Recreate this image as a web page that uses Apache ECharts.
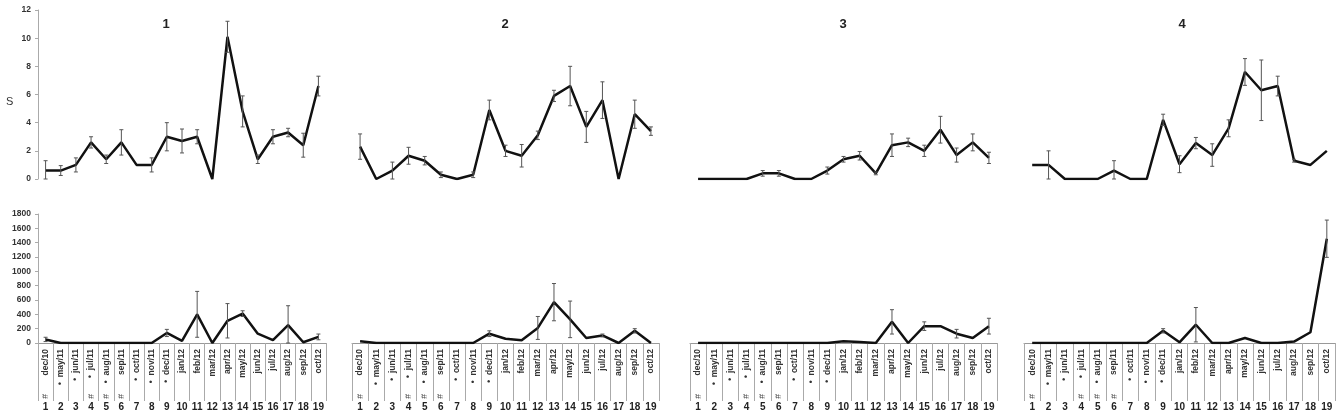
<!DOCTYPE html>
<html><head><meta charset="utf-8">
<script src="https://cdn.jsdelivr.net/npm/echarts@6/dist/echarts.min.js"></script>
<style>html,body{margin:0;padding:0;background:#fff}#c{width:1336px;height:417px}</style>
</head><body><div id="c"></div>
<script>
const months = ['dec/10','may/11','jun/11','jul/11','aug/11','sep/11','oct/11','nov/11','dec/11','jan/12','feb/12','mar/12','apr/12','may/12','jun/12','jul/12','aug/12','sep/12','oct/12'];
const bulletRow = ['', '•', '•', '•', '•', '', '•', '•', '•', '', '', '', '', '', '', '', '', '', ''];
const hashRow = ['#', '', '', '#', '#', '#', '', '', '', '', '', '', '', '', '', '', '', '', ''];
const sampleNums = ['1','2','3','4','5','6','7','8','9','10','11','12','13','14','15','16','17','18','19'];
const panelTitles = ['1','2','3','4'];
const sTicks = [0,12,2];
const aTicks = [0,1800,200];

const s1 = [0.6,0.6,1.0,2.6,1.4,2.6,1.0,1.0,3.0,2.7,3.0,0,10.1,4.8,1.4,3.0,3.3,2.4,6.6];
const s1e = [0.7,0.35,0.5,0.4,0.3,0.9,0,0.5,1.0,0.85,0.5,0,1.1,1.1,0.3,0.5,0.3,0.85,0.7];
const s2 = [2.3,0,0.6,1.65,1.3,0.3,0,0.3,4.9,2.0,1.65,3.1,5.9,6.6,3.7,5.6,0,4.6,3.4];
const s2e = [0.9,0,0.6,0.6,0.3,0.2,0,0.2,0.7,0.4,0.8,0.3,0.4,1.4,1.1,1.3,0,1.0,0.3];
const s3 = [0,0,0,0,0.4,0.4,0,0,0.6,1.4,1.65,0.4,2.4,2.6,2.0,3.5,1.7,2.6,1.5];
const s3e = [0,0,0,0,0.2,0.2,0,0,0.25,0.2,0.3,0.1,0.8,0.3,0.4,0.95,0.5,0.6,0.4];
const s4 = [1.0,1.0,0,0,0,0.6,0,0,4.2,1.05,2.55,1.7,3.6,7.6,6.3,6.6,1.3,1.0,2.0];
const s4e = [0,1.0,0,0,0,0.7,0,0,0.4,0.6,0.4,0.8,0.6,0.95,2.15,0.7,0.1,0,0];

const a1 = [50,0,0,0,0,0,0,0,140,30,400,0,310,410,130,40,250,10,85];
const a1e = [30,0,0,0,0,0,0,0,50,0,320,0,240,40,0,0,270,0,40];
const a2 = [25,0,0,0,0,0,0,0,130,60,40,210,570,330,70,105,0,170,0];
const a2e = [0,0,0,0,0,0,0,0,40,0,0,160,260,255,0,20,0,30,0];
const a3 = [0,0,0,0,0,0,0,0,0,25,15,0,295,0,235,235,130,70,235];
const a3e = [0,0,0,0,0,0,0,0,0,0,0,0,170,0,60,0,60,0,110];
const a4 = [0,0,0,0,0,0,0,0,170,10,255,0,0,70,0,0,20,150,1455];
const a4e = [0,0,0,0,0,0,0,0,30,0,240,0,0,0,0,0,0,0,260];

const topVals = [s1,s2,s3,s4], topErrs = [s1e,s2e,s3e,s4e];
const botVals = [a1,a2,a3,a4], botErrs = [a1e,a2e,a3e,a4e];

const panelX = [{left:38,width:288},{left:352,width:307},{left:690,width:307},{left:1024,width:311}];
const FONT = 'Liberation Sans, Arial, sans-serif';

const dateLabels = months.map((m,i)=> bulletRow[i] ? bulletRow[i] + '  ' + m : m);

const grids = [], xAxes = [], yAxes = [], series = [], titles = [];

function errSeries(xi, yi, vals, errs) {
  const d = [];
  vals.forEach((v,i)=>{ if (errs[i] > 0) d.push([i, Math.max(0, v-errs[i]), v+errs[i]]); });
  return {
    type:'custom', xAxisIndex:xi, yAxisIndex:yi, z:5, silent:true,
    renderItem:function(params, api){
      const x = api.value(0);
      const lo = api.coord([x, api.value(1)]);
      const hi = api.coord([x, api.value(2)]);
      const w = 2;
      const st = {stroke:'#555', lineWidth:1};
      return {type:'group', children:[
        {type:'line', shape:{x1:lo[0],y1:lo[1],x2:hi[0],y2:hi[1]}, style:st},
        {type:'line', shape:{x1:lo[0]-w,y1:lo[1],x2:lo[0]+w,y2:lo[1]}, style:st},
        {type:'line', shape:{x1:hi[0]-w,y1:hi[1],x2:hi[0]+w,y2:hi[1]}, style:st}
      ]};
    },
    data:d
  };
}

const yLabel = {fontSize:8.5, fontWeight:'bold', color:'#333', fontFamily:FONT, margin:7, formatter:v=>String(v)};

for (let p=0;p<4;p++){
  const gt = grids.length;
  grids.push({left:panelX[p].left, width:panelX[p].width, top:10, height:169});
  const xt = xAxes.length;
  xAxes.push({type:'category', gridIndex:gt, data:sampleNums, boundaryGap:true, show:false});
  const yt = yAxes.length;
  yAxes.push({type:'value', gridIndex:gt, min:sTicks[0], max:sTicks[1], interval:sTicks[2], show:p===0,
    splitLine:{show:false},
    axisLine:{show:true, lineStyle:{color:'#aaa', width:1}},
    axisTick:{show:true, length:3, lineStyle:{color:'#aaa'}},
    axisLabel:yLabel});
  series.push({type:'line', xAxisIndex:xt, yAxisIndex:yt, data:topVals[p], showSymbol:false, z:4,
    lineStyle:{color:'#111', width:2.5}});
  series.push(errSeries(xt, yt, topVals[p], topErrs[p]));

  const gb = grids.length;
  grids.push({left:panelX[p].left, width:panelX[p].width, top:214, height:129});
  const xb = xAxes.length;
  xAxes.push({type:'category', gridIndex:gb, data:dateLabels, boundaryGap:true, position:'bottom',
    axisLine:{show:true, lineStyle:{color:'#999', width:1}},
    axisTick:{show:true, interval:0, length:58, lineStyle:{color:'#aaa', width:1}},
    axisLabel:{interval:0, rotate:90, fontSize:8.5, fontWeight:'bold', color:'#333', fontFamily:FONT, margin:6}});
  xAxes.push({type:'category', gridIndex:gb, data:hashRow, boundaryGap:true, position:'bottom', offset:51,
    axisLine:{show:false}, axisTick:{show:false},
    axisLabel:{interval:0, rotate:90, fontSize:9, fontStyle:'italic', color:'#444', fontFamily:FONT, margin:0}});
  xAxes.push({type:'category', gridIndex:gb, data:sampleNums, boundaryGap:true, position:'bottom', offset:59,
    axisLine:{show:false}, axisTick:{show:false},
    axisLabel:{interval:0, fontSize:10, fontWeight:'bold', color:'#222', fontFamily:FONT, margin:0}});
  const yb = yAxes.length;
  yAxes.push({type:'value', gridIndex:gb, min:aTicks[0], max:aTicks[1], interval:aTicks[2], show:p===0,
    splitLine:{show:false},
    axisLine:{show:true, lineStyle:{color:'#aaa', width:1}},
    axisTick:{show:true, length:3, lineStyle:{color:'#aaa'}},
    axisLabel:yLabel});
  series.push({type:'line', xAxisIndex:xb, yAxisIndex:yb, data:botVals[p], showSymbol:false, z:4,
    lineStyle:{color:'#111', width:2.5}});
  series.push(errSeries(xb, yb, botVals[p], botErrs[p]));
}

const titleX = [161, 500, 838, 1177];
panelTitles.forEach((t,i)=>titles.push({text:t, left:titleX[i], top:13, textAlign:'center',
  textStyle:{fontSize:13, fontWeight:'bold', color:'#222', fontFamily:FONT}}));
titles.push({text:'S', left:1, top:91, textStyle:{fontSize:11, fontWeight:'normal', color:'#333', fontFamily:FONT}});

const chart = echarts.init(document.getElementById('c'), null, {renderer:'canvas'});
chart.setOption({
  animation:false,
  backgroundColor:'#fff',
  title:titles,
  grid:grids, xAxis:xAxes, yAxis:yAxes, series:series
});
</script></body></html>
